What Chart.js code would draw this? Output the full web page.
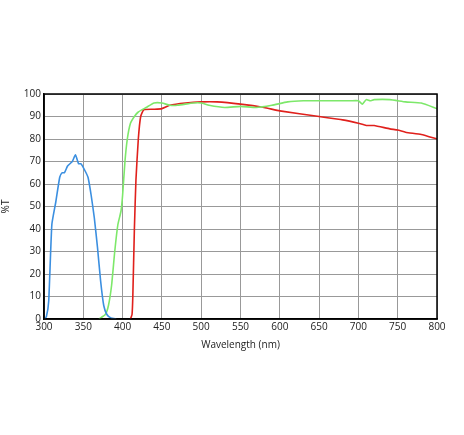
<!DOCTYPE html>
<html><head><script src="https://cdn.jsdelivr.net/npm/chart.js@4"></script>
<style>html,body{margin:0;padding:0;background:#fff}#w{width:464px;height:435px}</style></head>
<body><div id="w"><canvas id="c"></canvas></div>
<script>
const blueX=[300,303,306,310,315,320,323,326,330,336,340,344,347,352,356,360,364,368,372,376,380,385,392];
const blueY=[0,1,8,42,52,63,65,65,68,70,73,69,69,66,63,55,45,32,17,6,2,0.5,0];
const greenX=[370,378,382,386,390,394,398,400,403,406,410,415,420,430,440,450,460,470,490,500,510,530,550,570,590,610,630,660,690,700,705,710,715,720,740,760,780,800];
const greenY=[0,2,6,15,30,42,48,55,70,80,87,90,92,94,96,96,95,95,96,96,95,94,94.5,94,95,96.5,97,97,97,97,95.5,97.5,97,97.5,97.5,96.5,96,93.5];
const redX=[410,412,413,415,417,420,423,427,440,450,460,480,500,520,550,580,600,650,680,700,710,720,740,750,760,780,800];
const redY=[0,2,10,40,62,80,90,93,93.2,93.5,95,96,96.5,96.5,95.5,94,92.5,90,88.5,87,86,86,84.5,84,83,82,80];
const pts=(xs,ys)=>xs.map((x,i)=>({x,y:ys[i]}));
const ds=(xs,ys,c)=>({data:pts(xs,ys),borderColor:c,borderWidth:1.6,pointRadius:0,tension:0.15,fill:false});
new Chart(document.getElementById('c'),{type:'line',
data:{datasets:[ds(blueX,blueY,'#3b8fe0'),ds(greenX,greenY,'#7de86a'),ds(redX,redY,'#e0201c')]},
options:{responsive:true,maintainAspectRatio:false,animation:false,
layout:{padding:{left:0,right:27,top:94,bottom:84}},
plugins:{legend:{display:false},tooltip:{enabled:false}},
scales:{
x:{type:'linear',min:300,max:800,ticks:{stepSize:50,color:'#222',font:{family:'Open Sans',size:10},padding:2,maxRotation:0},
 grid:{color:'#999',drawTicks:false},border:{color:'#000',width:1.5},
 title:{display:true,text:'Wavelength (nm)',color:'#222',font:{family:'Open Sans',size:10},padding:0},
 afterFit:s=>{s.height=32;}},
y:{min:0,max:100,ticks:{stepSize:10,color:'#222',font:{family:'Open Sans',size:10},padding:3},
 grid:{color:'#999',drawTicks:false},border:{color:'#000',width:1.5},
 title:{display:true,text:'%T',color:'#222',font:{family:'Open Sans',size:10},padding:0},
 afterFit:s=>{s.width=44;}}
}},
plugins:[{id:'frame',afterDraw(c){const a=c.chartArea,x=c.ctx;x.save();x.strokeStyle='#000';x.lineWidth=1.5;x.strokeRect(a.left,a.top,a.right-a.left,a.bottom-a.top);x.restore();}}]
});
</script></body></html>
